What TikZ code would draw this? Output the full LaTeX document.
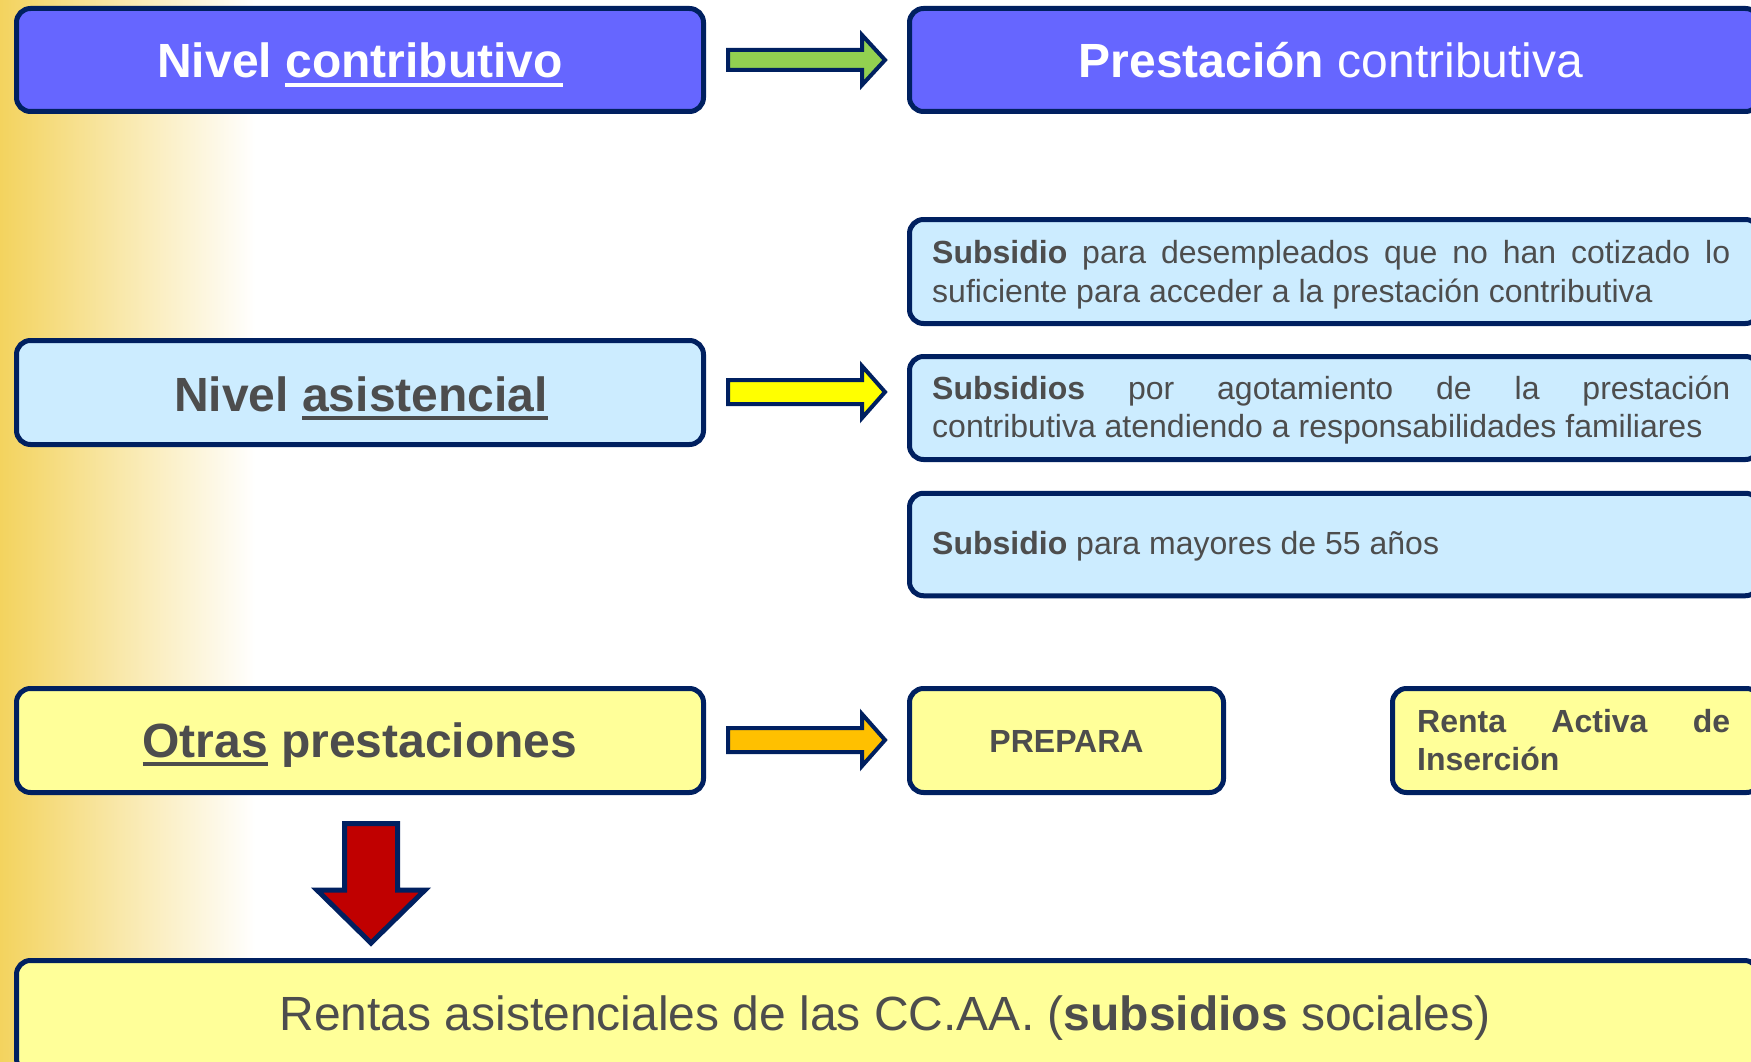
\documentclass[tikz,border=0pt]{standalone}
\usepackage{fontspec}
\setmainfont{Liberation Sans}
\definecolor{navy}{RGB}{0,32,96}
\definecolor{bluefill}{RGB}{102,102,255}
\definecolor{lblue}{RGB}{204,236,255}
\definecolor{lyellow}{RGB}{255,255,153}
\definecolor{agreen}{RGB}{146,208,80}
\definecolor{ayellow}{RGB}{255,255,0}
\definecolor{aorange}{RGB}{255,192,0}
\definecolor{ared}{RGB}{192,0,0}
\definecolor{txtgray}{RGB}{77,77,77}
\definecolor{gold}{RGB}{243,211,94}
\newcommand\myul[1]{\setbox0=\hbox{#1}\rlap{\rule[-9pt]{\wd0}{4pt}}\box0\relax}
\tikzset{
  x=1pt, y=-1pt,
  box/.style={draw=navy, line width=5pt, rounded corners=14pt, inner sep=0pt, outer sep=0pt},
  big/.style={font=\fontsize{48}{58}\selectfont, text=txtgray, inner sep=0pt, anchor=base},
  bigw/.style={big, text=white},
  small/.style={font=\fontsize{32}{39}\selectfont, text=txtgray, inner sep=0pt, anchor=base west},
  blockarrow/.style={draw=navy, line width=4pt, line join=miter},
}
\begin{document}
\begin{tikzpicture}
\useasboundingbox (0,0) rectangle (1751,1062);
\fill[white] (0,0) rectangle (1751,1062);
\shade[left color=gold, right color=white] (0,0) rectangle (255,1062);

% boxes
\node[box, fill=bluefill, minimum width=687pt, minimum height=103pt] (A) at (360,60) {};
\node[box, fill=bluefill, minimum width=850pt, minimum height=103pt] (B) at (1334.5,60) {};
\node[box, fill=lblue, minimum width=687pt, minimum height=104pt] (AS) at (360,392.5) {};
\node[box, fill=lblue, minimum width=850pt, minimum height=104pt] (C1) at (1334.5,271.5) {};
\node[box, fill=lblue, minimum width=850pt, minimum height=103pt] (C2) at (1334.5,408) {};
\node[box, fill=lblue, minimum width=850pt, minimum height=102.5pt] (C3) at (1334.5,544.5) {};
\node[box, fill=lyellow, minimum width=687pt, minimum height=104pt] (OT) at (360,740.5) {};
\node[box, fill=lyellow, minimum width=314pt, minimum height=104pt] (PR) at (1066.5,740.5) {};
\node[box, fill=lyellow, minimum width=368pt, minimum height=104pt] (RA) at (1576.5,740.5) {};
\node[box, fill=lyellow, minimum width=1742pt, minimum height=112pt] (RE) at (887.5,1016.5) {};

% texts
\node[bigw] (tA) at (360,78) {\textbf{Nivel \myul{contributivo}}};
\node[bigw] (tB) at (1331,78) {\textbf{Prestación} contributiva};
\node[big] (tAS) at (361,411) {\textbf{Nivel \myul{asistencial}}};
\node[big] (tOT) at (360,757) {\textbf{\myul{Otras} prestaciones}};
\node[big] (tRE) at (885,1030) {Rentas asistenciales de las CC.AA. (\textbf{subsidios} sociales)};

\node[small] (c1a) at (932,263) {\makebox[798pt][s]{\textbf{Subsidio} para desempleados que no han cotizado lo}};
\node[small] (c1b) at (932,302) {suficiente para acceder a la prestación contributiva};
\node[small] (c2a) at (932,399) {\makebox[798pt][s]{\textbf{Subsidios} por agotamiento de la prestación}};
\node[small] (c2b) at (932,437) {contributiva atendiendo a responsabilidades familiares};
\node[small] (c3a) at (932,554) {\textbf{Subsidio} para mayores de 55 años};
\node[small, anchor=base] (pr) at (1066.5,752) {\textbf{PREPARA}};
\node[small] (ra1) at (1417,732) {\makebox[313pt][s]{\textbf{Renta Activa de}}};
\node[small] (ra2) at (1417,770) {\textbf{Inserción}};

% block arrows
\draw[blockarrow, fill=agreen] (728,50) -- (862,50) -- (862,35) -- (885,60) -- (862,85) -- (862,70) -- (728,70) -- cycle;
\draw[blockarrow, fill=ayellow] (728,380) -- (862,380) -- (862,366) -- (885,392) -- (862,418) -- (862,404) -- (728,404) -- cycle;
\draw[blockarrow, fill=aorange] (728,728) -- (862,728) -- (862,714) -- (885,740) -- (862,766) -- (862,752) -- (728,752) -- cycle;
\draw[blockarrow, line width=5pt, fill=ared] (344.5,823.5) -- (397.5,823.5) -- (397.5,890) -- (425,890) -- (371,943) -- (317,890) -- (344.5,890) -- cycle;
\end{tikzpicture}
\end{document}
